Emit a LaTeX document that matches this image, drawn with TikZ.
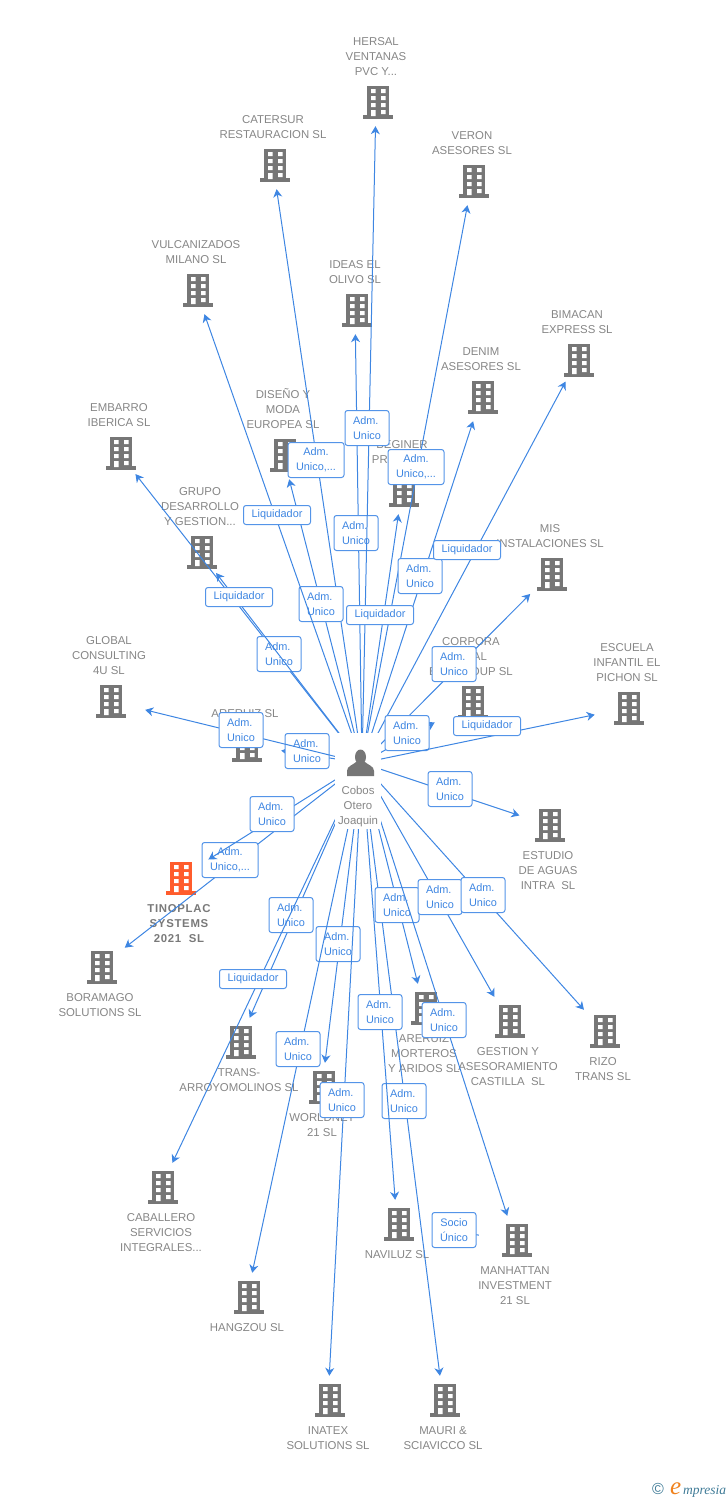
\documentclass[tikz,border=0pt]{standalone}
\usepackage{fontspec}
\setmainfont{Liberation Sans}
\newfontfamily\logofont{Liberation Serif}
\usetikzlibrary{arrows.meta, positioning}
\definecolor{linkblue}{RGB}{62, 134, 226}
\definecolor{boxblue}{RGB}{84, 148, 232}
\definecolor{textgray}{RGB}{134, 134, 134}
\definecolor{icongray}{RGB}{118, 118, 118}
\definecolor{iconorange}{RGB}{255, 92, 44}
\definecolor{logoteal}{RGB}{62, 122, 150}
\definecolor{logoorange}{RGB}{240, 130, 30}

\newcommand{\drawbldg}[1]{%
  \begin{scope}[shift={(path picture bounding box.center)}]
    \fill[#1] (-9,-16) rectangle (13,14);
    \fill[#1] (-13,13) rectangle (17,17);
    \fill[white] (-5,-13) rectangle (-0.5,-9) (5,-13) rectangle (9.5,-9);
    \fill[white] (-5,-6) rectangle (-0.5,-2) (5,-6) rectangle (9.5,-2);
    \fill[white] (-5,1) rectangle (-0.5,5) (5,1) rectangle (9.5,5);
    \fill[white] (-5,8) rectangle (-0.5,14) (5,8) rectangle (9.5,12);
  \end{scope}}

\begin{document}
\begin{tikzpicture}[
    x=1pt, y=-1pt,
    bldg/.style={rectangle, inner sep=0pt, minimum width=72pt, minimum height=48pt, path picture={\drawbldg{#1}}},
    bldg/.default=icongray,
    lbl/.style={inner sep=0pt, align=center, text=textgray, font=\fontsize{11.4}{15}\selectfont},
    mainlbl/.style={lbl, font=\fontsize{11.4}{15}\selectfont\bfseries\addfontfeature{LetterSpace=6}, text=textgray!90!black},
    rolebox/.style={rectangle, draw=boxblue, fill=white, line width=1pt, rounded corners=2.5pt, inner sep=0pt, minimum width=44pt, minimum height=35pt, align=left, text=linkblue, font=\fontsize{10.9}{15}\selectfont},
    widebox/.style={rolebox, minimum width=56pt, align=center},
    liqbox/.style={rolebox, minimum width=67pt, minimum height=19pt, align=center},
    link/.style={-{Stealth[length=8pt, width=9pt, inset=2.5pt]}, line width=1pt, linkblue},
    hubmask/.style={rectangle, fill=white, inner sep=0pt, minimum width=46pt, minimum height=96pt}
]
    \useasboundingbox (0,0) rectangle (728,1500);

    % Companies
    \node[bldg] (hersal) at (376,102) {};
    \node[lbl, above=2pt of hersal] (hersallbl) {HERSAL\\VENTANAS\\PVC Y...};
    \node[bldg] (catersur) at (273,165) {};
    \node[lbl, above=2pt of catersur] (catersurlbl) {CATERSUR\\RESTAURACION SL};
    \node[bldg] (veron) at (472,181) {};
    \node[lbl, above=2pt of veron] (veronlbl) {VERON\\ASESORES SL};
    \node[bldg] (vulcanizados) at (196,290) {};
    \node[lbl, above=2pt of vulcanizados] (vulcanizadoslbl) {VULCANIZADOS\\MILANO SL};
    \node[bldg] (ideas) at (355,310) {};
    \node[lbl, above=2pt of ideas] (ideaslbl) {IDEAS EL\\OLIVO SL};
    \node[bldg] (bimacan) at (577,360) {};
    \node[lbl, above=2pt of bimacan] (bimacanlbl) {BIMACAN\\EXPRESS SL};
    \node[bldg] (denim) at (481,397) {};
    \node[lbl, above=2pt of denim] (denimlbl) {DENIM\\ASESORES SL};
    \node[bldg] (embarro) at (119,453) {};
    \node[lbl, above=2pt of embarro] (embarrolbl) {EMBARRO\\IBERICA SL};
    \node[bldg] (diseno) at (283,455) {};
    \node[lbl, above=2pt of diseno] (disenolbl) {DISEÑO Y\\MODA\\EUROPEA SL};
    \node[bldg] (beginer) at (402,490) {};
    \node[lbl, above=2pt of beginer] (beginerlbl) {BEGINER\\PR\phantom{OOOOO}};
    \node[bldg] (grupo) at (200,552) {};
    \node[lbl, above=2pt of grupo] (grupolbl) {GRUPO\\DESARROLLO\\Y GESTION...};
    \node[bldg] (mis) at (550,574) {};
    \node[lbl, above=2pt of mis] (mislbl) {MIS\\INSTALACIONES SL};
    \node[bldg] (corpora) at (471,702) {};
    \node[lbl, above=2pt of corpora] (corporalbl) {CORPORA\\\phantom{OO}AL\\E\phantom{MPGR}OUP SL};
    \node[bldg] (escuela) at (627,708) {};
    \node[lbl, above=2pt of escuela] (escuelalbl) {ESCUELA\\INFANTIL EL\\PICHON SL};
    \node[bldg] (global) at (109,701) {};
    \node[lbl, above=2pt of global] (globallbl) {GLOBAL\\CONSULTING\\4U SL};
    \node[bldg] (areruiz) at (245,745) {};
    \node[lbl, above=3pt of areruiz] (areruizlbl) {ARERUIZ SL};
    \node[bldg] (estudio) at (548,825) {};
    \node[lbl, below=2pt of estudio] (estudiolbl) {ESTUDIO\\DE AGUAS\\INTRA\ \ SL};
    \node[bldg=iconorange] (tinoplac) at (179,878) {};
    \node[mainlbl, below=2pt of tinoplac] (tinoplaclbl) {TINOPLAC\\SYSTEMS\\2021\ \ SL};
    \node[bldg] (boramago) at (100,967) {};
    \node[lbl, below=2pt of boramago] (boramagolbl) {BORAMAGO\\SOLUTIONS SL};
    \node[bldg] (trans) at (239,1042) {};
    \node[lbl, below=2pt of trans] (translbl) {TRANS-\\ARROYOMOLINOS SL};
    \node[bldg] (worldnet) at (322,1087) {};
    \node[lbl, below=2pt of worldnet] (worldnetlbl) {WORLDNET\\21 SL};
    \node[bldg] (morteros) at (424,1008) {};
    \node[lbl, below=2pt of morteros] (morteroslbl) {ARERUIZ\\MORTEROS\\Y ARIDOS SL};
    \node[bldg] (gestion) at (508,1021) {};
    \node[lbl, below=2pt of gestion] (gestionlbl) {GESTION Y\\ASESORAMIENTO\\CASTILLA\ \ SL};
    \node[bldg] (rizo) at (603,1031) {};
    \node[lbl, below=2pt of rizo] (rizolbl) {RIZO\\TRANS SL};
    \node[bldg] (caballero) at (161,1187) {};
    \node[lbl, below=2pt of caballero] (caballerolbl) {CABALLERO\\SERVICIOS\\INTEGRALES...};
    \node[bldg] (naviluz) at (397,1224) {};
    \node[lbl, below=2pt of naviluz] (naviluzlbl) {NAVILUZ SL};
    \node[bldg] (manhattan) at (515,1240) {};
    \node[lbl, below=2pt of manhattan] (manhattanlbl) {MANHATTAN\\INVESTMENT\\21 SL};
    \node[bldg] (hangzou) at (247,1297) {};
    \node[lbl, below=2pt of hangzou] (hangzoulbl) {HANGZOU SL};
    \node[bldg] (inatex) at (328,1400) {};
    \node[lbl, below=2pt of inatex] (inatexlbl) {INATEX\\SOLUTIONS SL};
    \node[bldg] (mauri) at (443,1400) {};
    \node[lbl, below=2pt of mauri] (maurilbl) {MAURI \&\\SCIAVICCO SL};

    % Arrows from the person, each with its role box
    \node[inner sep=0pt, minimum size=0pt] (cobos) at (362,763) {};

    \draw[link] (cobos) -- (ideas);
    \node[rolebox] (roleideas) at (356,533) {Adm.\\Unico};
    \draw[link] (cobos) -- (hersal);
    \node[rolebox] (rolehersal) at (367,428) {Adm.\\Unico};
    \draw[link] (cobos) -- (catersur);
    \node[widebox] (rolecatersur) at (316,460) {Adm.\\Unico,...};
    \draw[link] (cobos) -- (veron);
    \node[widebox] (roleveron) at (416,467) {Adm.\\Unico,...};
    \draw[link] (cobos) -- (diseno);
    \node[rolebox] (rolediseno) at (321,604) {Adm.\\Unico};
    \draw[link] (cobos) -- (vulcanizados);
    \node[liqbox] (rolevulcanizados) at (277,515) {Liquidador};
    \draw[link] (cobos) -- (denim);
    \node[rolebox] (roledenim) at (420,576) {Adm.\\Unico};
    \draw[link, shorten >=-3pt] (cobos) -- (bimacan);
    \node[liqbox] (rolebimacan) at (467,550) {Liquidador};
    \draw[link] (cobos) -- (beginer);
    \node[liqbox] (rolebeginer) at (380,615) {Liquidador};
    \draw[link, shorten >=-4pt] (cobos) -- (embarro);
    \node[rolebox] (roleembarro) at (279,654) {Adm.\\Unico};
    \draw[link, shorten >=-4pt] (cobos) -- (grupo);
    \node[liqbox] (rolegrupo) at (239,597) {Liquidador};
    \draw[link, shorten >=-6pt] (cobos) -- (mis);
    \node[rolebox] (rolemis) at (454,664) {Adm.\\Unico};
    \draw[link] (cobos) -- (corpora);
    \node[rolebox] (rolecorpora) at (407,733) {Adm.\\Unico};
    \draw[link, shorten >=-4pt] (cobos) -- (escuela);
    \node[liqbox] (roleescuela) at (487,726) {Liquidador};
    \draw[link] (cobos) -- (areruiz);
    \node[rolebox] (roleareruiz) at (307,751) {Adm.\\Unico};
    \draw[link] (cobos) -- (global);
    \node[rolebox] (roleglobal) at (241,730) {Adm.\\Unico};
    \draw[link, shorten >=-8pt] (cobos) -- (estudio);
    \node[rolebox] (roleestudio) at (450,789) {Adm.\\Unico};
    \draw[link, shorten >=-8pt] (cobos) -- (boramago);
    \node[widebox] (roleboramago) at (230,860) {Adm.\\Unico,...};
    \draw[link, shorten >=-8pt] (cobos) -- (tinoplac);
    \node[rolebox] (roletinoplac) at (272,814) {Adm.\\Unico};
    \draw[link] (cobos) -- (trans);
    \node[rolebox] (roletrans) at (291,915) {Adm.\\Unico};
    \draw[link] (cobos) -- (caballero);
    \node[liqbox] (rolecaballero) at (253,979) {Liquidador};
    \draw[link] (cobos) -- (worldnet);
    \node[rolebox] (roleworldnet) at (338,944) {Adm.\\Unico};
    \draw[link] (cobos) -- (hangzou);
    \node[rolebox] (rolehangzou) at (298,1049) {Adm.\\Unico};
    \draw[link] (cobos) -- (inatex);
    \node[rolebox] (roleinatex) at (342,1100) {Adm.\\Unico};
    \draw[link] (cobos) -- (mauri);
    \node[rolebox] (rolemauri) at (404,1101) {Adm.\\Unico};
    \draw[link] (cobos) -- (naviluz);
    \node[rolebox] (rolenaviluz) at (380,1012) {Adm.\\Unico};
    \draw[link] (cobos) -- (morteros);
    \node[rolebox] (rolemorteros) at (397,905) {Adm.\\Unico};
    \draw[link] (cobos) -- (manhattan);
    \node[rolebox] (rolemanhattan) at (444,1020) {Adm.\\Unico};
    \draw[link] (cobos) -- (gestion);
    \node[rolebox] (rolegestion) at (440,897) {Adm.\\Unico};
    \draw[link, shorten >=-4pt] (cobos) -- (rizo);
    \node[rolebox] (rolerizo) at (483,895) {Adm.\\Unico};
    \draw[link] (manhattan) -- (naviluz);
    \node[rolebox, align=center] (rolesocio) at (454,1230) {Socio\\Único};

    % Person
    \node[hubmask] (cobosmask) at (358,781) {};
    \fill[icongray] (360.5,757) ellipse (5.5 and 7.5);
    \fill[icongray] (347,776) -- (347,771) .. controls (347,766) and (353,765) .. (356,762) -- (365,762) .. controls (368,765) and (374,766) .. (374,771) -- (374,776) -- cycle;
    \node[lbl] (coboslbl) at (358,807) {Cobos\\Otero\\Joaquin};

    % Logo
    \node[inner sep=0pt, text=logoteal, font=\fontsize{16}{16}\selectfont] (logosign) at (658,1489) {©};
    \node[inner sep=0pt, anchor=base west, text=logoorange, font=\logofont\itshape\fontsize{25}{25}\selectfont] (logoe) at (670,1494) {e};
    \node[inner sep=0pt, anchor=base west, text=logoteal, font=\logofont\itshape\fontsize{13.5}{15}\selectfont] (logo) at (683,1494) {mpresia};
\end{tikzpicture}
\end{document}
